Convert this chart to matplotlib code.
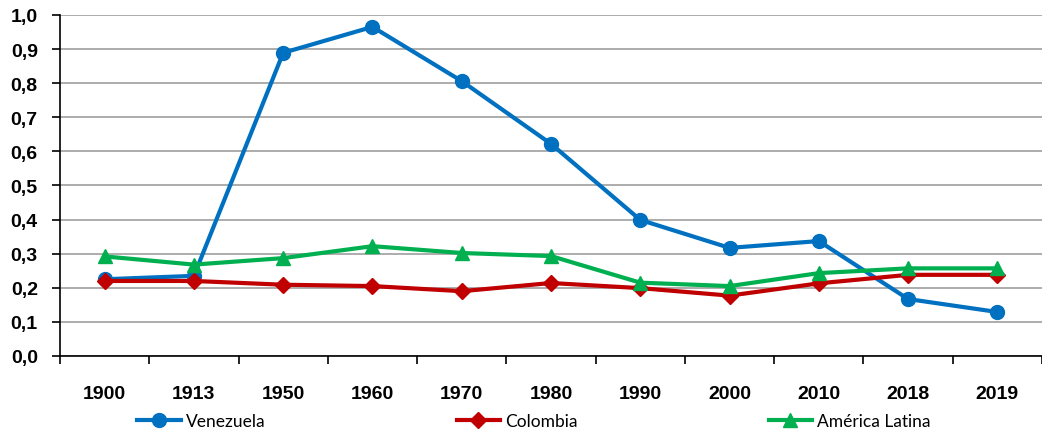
import matplotlib
matplotlib.use("Agg")
import matplotlib.pyplot as plt
from matplotlib.ticker import FixedLocator, FuncFormatter
import numpy as np

# data
years = ["1900", "1913", "1950", "1960", "1970", "1980", "1990", "2000", "2010", "2018", "2019"]
venezuela = [0.225, 0.235, 0.889, 0.965, 0.806, 0.622, 0.399, 0.317, 0.337, 0.167, 0.129]
colombia = [0.220, 0.220, 0.209, 0.205, 0.190, 0.214, 0.199, 0.177, 0.213, 0.238, 0.238]
america_latina = [0.292, 0.268, 0.287, 0.322, 0.302, 0.293, 0.215, 0.205, 0.243, 0.257, 0.257]

plt.rcParams['font.family'] = ['Liberation Sans', 'DejaVu Sans']
plt.rcParams['font.weight'] = 'bold'

fig = plt.figure(figsize=(10.42, 4.31), dpi=100)
ax = fig.add_axes([0.0576, 0.1717, 0.9424, 0.7913])

x = np.arange(len(years))
ax.plot(x, venezuela, color='#0070C0', lw=3.0, marker='o', ms=10, label='Venezuela')
ax.plot(x, colombia, color='#C00000', lw=3.0, marker='D', ms=8, label='Colombia')
ax.plot(x, america_latina, color='#00B050', lw=3.0, marker='^', ms=10, label='América Latina')

ax.set_xlim(-0.5, len(years) - 0.5)
ax.set_ylim(0, 1.0)
ax.set_yticks(np.arange(0, 1.01, 0.1))
ax.yaxis.set_major_formatter(FuncFormatter(lambda v, p: f"{v:.1f}".replace('.', ',')))
ax.grid(axis='y', color='#A6A6A6', lw=1.3)
ax.set_axisbelow(True)

ax.set_xticks(x)
ax.set_xticklabels(years)
ax.xaxis.set_minor_locator(FixedLocator(np.arange(-0.5, len(years), 1.0)))
ax.tick_params(axis='x', which='major', length=0, pad=21, labelsize=14)
ax.tick_params(axis='x', which='minor', length=6, width=1.2, direction='out')
ax.tick_params(axis='y', length=6, width=1.2, direction='out', labelsize=14, pad=10)

for s in ['top', 'right']:
    ax.spines[s].set_visible(False)
ax.spines['left'].set_linewidth(1.2)
ax.spines['bottom'].set_linewidth(1.2)

fig.legend(loc='center', bbox_to_anchor=(0.5125, 0.021), ncol=3, frameon=False,
           prop={'family': 'Lato', 'size': 12.5, 'weight': 'normal'}, handlelength=2.5,
           handletextpad=0.3, columnspacing=11.0, borderaxespad=0, borderpad=0)

fig.savefig('out.png', dpi=100)
